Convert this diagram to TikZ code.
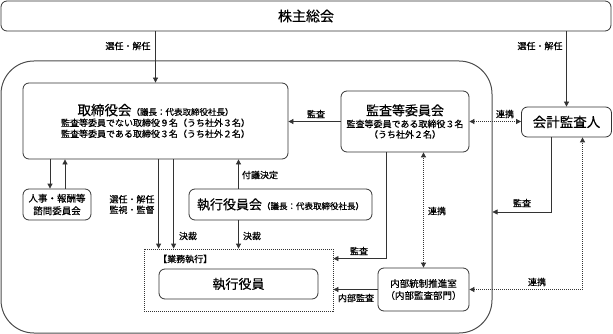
\documentclass[tikz,border=0pt]{standalone}
\usepackage{fontspec}
\setmainfont{Noto Sans CJK JP}[FakeBold=0.5]
\usetikzlibrary{arrows.meta}
\begin{document}
\begin{tikzpicture}[x=1pt,y=-1pt,
  line/.style={draw=black!80, line width=0.8pt},
  arr/.style={line, -{Triangle[length=5pt,width=5pt]}},
  darr/.style={line, dash pattern=on 1pt off 1pt, {Triangle[length=5pt,width=5pt]}-{Triangle[length=5pt,width=5pt]}},
  box/.style={line, rounded corners=6pt, inner sep=0pt, align=center},
  lbl/.style={font=\fontsize{9}{10.5}\selectfont, inner sep=0pt, align=center},
]
\useasboundingbox (0,0) rectangle (613,334);

% outer frame
\node[line, draw=black!70, line width=1pt, rounded corners=33pt, minimum width=491pt, minimum height=272pt, inner sep=0pt] (outer) at (246.5,197) {};

% boxes
\node[box, minimum width=610pt, minimum height=30pt, font=\fontsize{14}{14}\selectfont] (gm) at (306,16) {株主総会};

\node[box, minimum width=265pt, minimum height=76pt, font=\fontsize{9}{11}\selectfont] (board) at (155.5,121)
  {{\fontsize{13.5}{15}\selectfont 取締役会}{\fontsize{8.5}{10}\selectfont （議長：代表取締役社長）}\\
   監査等委員でない取締役９名（うち社外３名）\\
   監査等委員である取締役３名（うち社外２名）};

\node[box, minimum width=128pt, minimum height=61pt, font=\fontsize{9}{10.5}\selectfont] (audit) at (405,121.5)
  {{\fontsize{13}{14}\selectfont 監査等委員会}\\[1.5pt]
   監査等委員である取締役３名\\
   （うち社外２名）};

\node[box, minimum width=90pt, minimum height=30pt, font=\fontsize{13.5}{14}\selectfont] (auditor) at (566.5,122) {会計監査人};

\node[box, minimum width=68pt, minimum height=31pt, font=\fontsize{9.5}{12.5}\selectfont] (hr) at (57,204.5)
  {人事・報酬等\\諮問委員会};

\node[box, minimum width=183pt, minimum height=31pt] (ec) at (280.5,204.5)
  {{\fontsize{13}{14}\selectfont 執行役員会}{\fontsize{8.5}{10}\selectfont （議長：代表取締役社長）}};

\node[line, dash pattern=on 1pt off 1pt, minimum width=189pt, minimum height=62pt, inner sep=0pt] (dotted) at (238.5,280) {};
\node[lbl, anchor=west] (gyomu) at (158,259) {【業務執行】};

\node[box, minimum width=159pt, minimum height=30pt, font=\fontsize{13}{14}\selectfont] (eo) at (238.5,284) {執行役員};

\node[box, minimum width=91pt, minimum height=43pt, font=\fontsize{9.5}{12}\selectfont] (ic) at (423.5,289.5)
  {内部統制推進室\\（内部監査部門）};

% connectors
\draw[arr] (gm.south -| board.north) -- (board.north);
\draw[arr] (gm.south -| auditor.north) -- (auditor.north);
\draw[arr] (audit.west) -- (audit.west -| board.east);
\draw[darr] (audit.east) -- (audit.east -| auditor.west);
\draw[arr] ([xshift=-7pt]hr.north |- board.south) -- ([xshift=-7pt]hr.north);
\draw[arr] ([xshift=8pt]hr.north) -- ([xshift=8pt]hr.north |- board.south);
\draw[arr] (board.south -| eo.west) -- (eo.west |- dotted.north);
\draw[arr] ([xshift=15pt]eo.west |- board.south) -- ([xshift=15pt]eo.west |- dotted.north);
\draw[arr] (ec.north -| dotted.north) -- (board.south -| dotted.north);
\draw[arr] (ec.south -| dotted.north) -- (dotted.north);
\draw[arr] ([xshift=-19pt]audit.south) |- ([yshift=-10pt]dotted.north east);
\draw[darr] (ic.north) -- (ic.north |- audit.south);
\draw[arr] (ic.west) -- (ic.west -| dotted.east);
\draw[arr] ([xshift=-15pt]auditor.south) |- ([yshift=-15pt]outer.east);
\draw[darr] (ic.east) -| ([xshift=16pt]auditor.south);

% labels
\node[lbl] (l1) at (128,46) {選任・解任};
\node[lbl] (l2) at (540,46) {選任・解任};
\node[lbl] (l3) at (316,114) {監査};
\node[lbl] (l4) at (505,114) {連携};
\node[lbl] (l5) at (132,204.5) {選任・解任\\監視・監督};
\node[lbl] (l6) at (188,236) {決裁};
\node[lbl] (l7) at (260,175) {付議決定};
\node[lbl] (l8) at (252,236) {決裁};
\node[lbl] (l9) at (359,251) {監査};
\node[lbl] (l10) at (437,211) {連携};
\node[lbl] (l11) at (356,298) {内部監査};
\node[lbl] (l12) at (522,203) {監査};
\node[lbl] (l13) at (537,282) {連携};
\end{tikzpicture}
\end{document}
